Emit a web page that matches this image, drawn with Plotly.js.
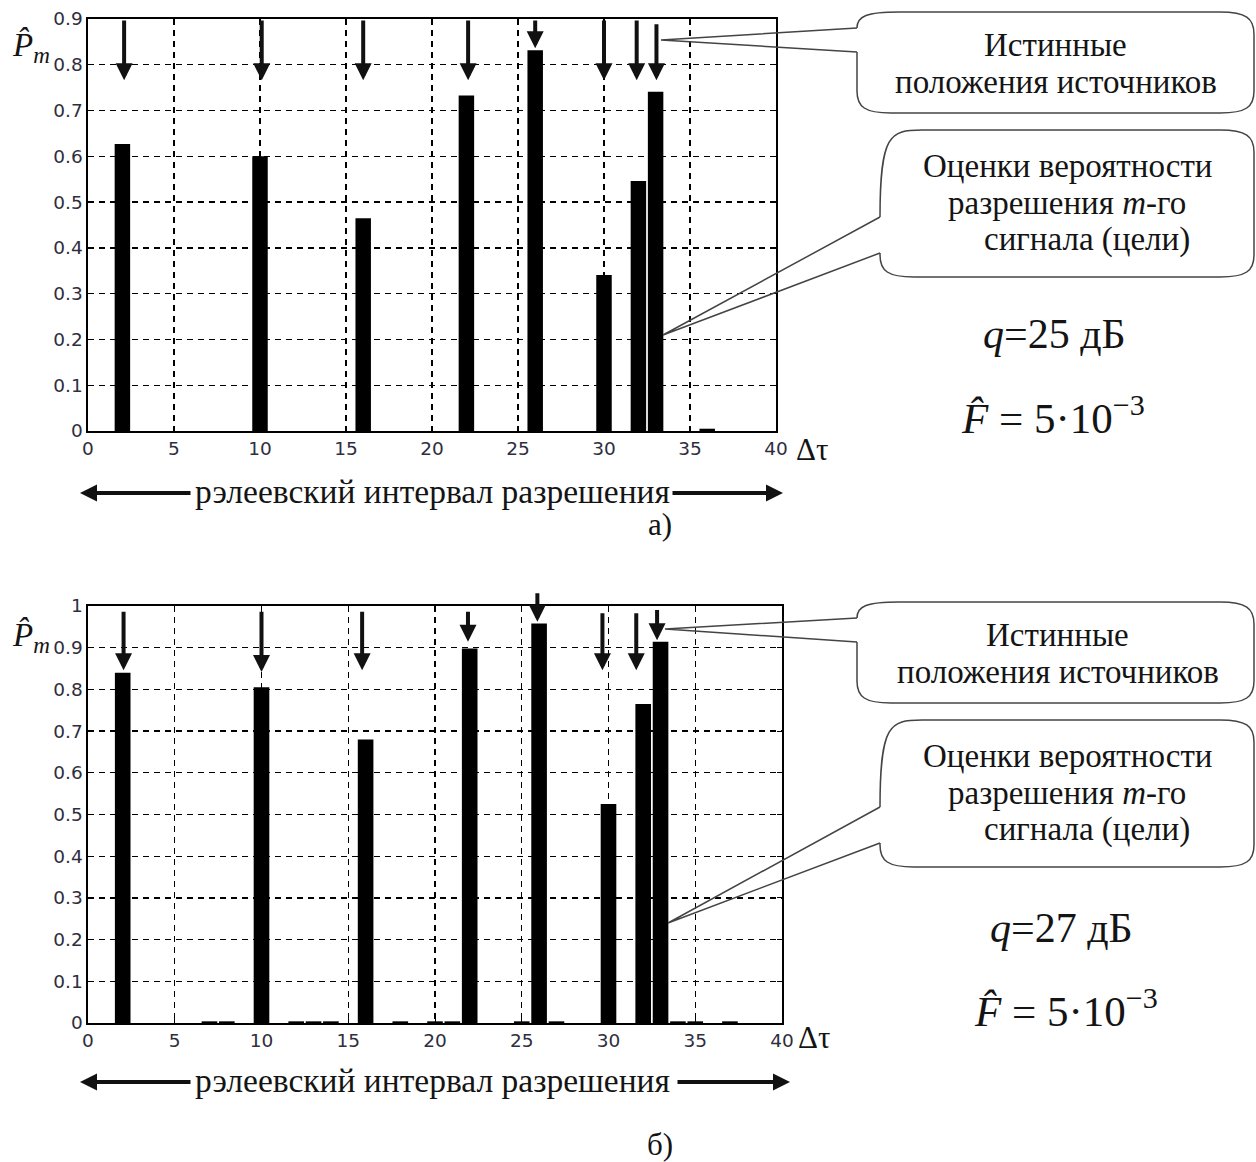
<!DOCTYPE html>
<html><head><meta charset="utf-8">
<script src="https://cdn.plot.ly/plotly-3.0.1.min.js"></script>
<style>html,body{margin:0;padding:0;background:#fff}#chart{width:1256px;height:1162px}</style>
</head><body><div id="chart"></div>
<script>
const W = 1256, H = 1162;

// ---------- data ----------
const topPositions = [2, 10, 16, 22, 26, 30, 32, 33, 36];
const topValues    = [0.627, 0.600, 0.465, 0.733, 0.832, 0.341, 0.546, 0.741, 0.005];

const bottomPositions = [2, 7, 8, 10, 12, 13, 14, 16, 18, 20, 21, 22, 25, 26, 27, 30, 32, 33, 34, 35, 37];
const bottomValues    = [0.840, 0.004, 0.004, 0.805, 0.004, 0.004, 0.004, 0.680, 0.004, 0.004, 0.004,
                         0.898, 0.004, 0.958, 0.004, 0.525, 0.765, 0.914, 0.004, 0.004, 0.004];

// true source positions (arrows): x, arrow tip value, arrow tail value
const topSourceX    = [2.1, 10.1, 16, 22.1, 26, 30, 31.9, 33.05];
const topArrowTip   = [0.766, 0.766, 0.766, 0.766, 0.836, 0.766, 0.766, 0.766];
const topArrowTail  = [0.9, 0.9, 0.9, 0.9, 0.9, 0.9, 0.9, 0.892];

const bottomSourceX   = [2.05, 10, 15.8, 21.9, 25.9, 29.65, 31.6, 32.8];
const bottomArrowTip  = [0.846, 0.842, 0.846, 0.914, 0.962, 0.846, 0.846, 0.918];
const bottomArrowTail = [0.99, 0.99, 0.99, 0.99, 1.034, 0.986, 0.986, 0.994];

const xTickVals = [0, 5, 10, 15, 20, 25, 30, 35, 40];
const xTickText = ['0', '5', '10', '15', '20', '25', '30', '35', '40'];
const topYTickVals = [0, 0.1, 0.2, 0.3, 0.4, 0.5, 0.6, 0.7, 0.8, 0.9];
const topYTickText = ['0', '0.1', '0.2', '0.3', '0.4', '0.5', '0.6', '0.7', '0.8', '0.9'];
const bottomYTickVals = [0, 0.1, 0.2, 0.3, 0.4, 0.5, 0.6, 0.7, 0.8, 0.9, 1];
const bottomYTickText = ['0', '0.1', '0.2', '0.3', '0.4', '0.5', '0.6', '0.7', '0.8', '0.9', '1'];

const panelLabels = ['а)', 'б)'];
const snrLabels = ['<i>q</i>=25 дБ', '<i>q</i>=27 дБ'];
const falseAlarmLabel = '<i>F\u0302</i> = 5·10<sup>\u22123</sup>';
const calloutTrue = ['Истинные', 'положения источников'];
const calloutEst = ['Оценки вероятности', 'разрешения <i>m</i>-го', 'сигнала (цели)'];
const rayleighLabel = 'рэлеевский интервал разрешения';
const yLabel = '<i>P\u0302</i><sub><i>m</i></sub>';
const xLabel = 'Δτ';

// ---------- helpers ----------
const px = x => x / W;
const py = y => 1 - y / H;
const SERIF = "'Liberation Serif', 'Times New Roman', serif";
const SANS = "'DejaVu Sans', sans-serif";
const TXT = '#141414';

function axisX(dom, anchor) {
  return {
    domain: dom, anchor: anchor, range: [0, 40], tickmode: 'array',
    tickvals: xTickVals, ticktext: xTickText,
    showgrid: true, gridcolor: '#000', gridwidth: 1.4, griddash: '6px,5px',
    showline: true, linecolor: '#000', linewidth: 1.6, mirror: 'ticks',
    ticks: 'inside', ticklen: 5, tickcolor: '#000', tickwidth: 1,
    zeroline: false, fixedrange: true,
    tickfont: {family: SANS, size: 18.5, color: '#2e2e3e'}
  };
}
function axisY(dom, anchor, maxv, vals, texts) {
  return {
    domain: dom, anchor: anchor, range: [0, maxv], tickmode: 'array',
    tickvals: vals, ticktext: texts,
    showgrid: true, gridcolor: '#000', gridwidth: 1.4, griddash: '6px,5px',
    showline: true, linecolor: '#000', linewidth: 1.6, mirror: 'ticks',
    ticks: 'inside', ticklen: 5, tickcolor: '#000', tickwidth: 1,
    zeroline: false, fixedrange: true,
    tickfont: {family: SANS, size: 18.5, color: '#2e2e3e'}
  };
}

// text annotation positioned by its baseline (pixels)
function txt(text, cx, baseline, size, anchor) {
  return {
    xref: 'paper', yref: 'paper', x: px(cx), y: py(baseline - 0.34 * size),
    xanchor: anchor || 'center', yanchor: 'middle', showarrow: false,
    text: text, font: {family: SERIF, size: size, color: TXT}
  };
}
function sourceArrows(xs, tips, tails, xr, yr) {
  return xs.map((x, i) => ({
    x: x, y: tips[i], ax: x, ay: tails[i], xref: xr, yref: yr, axref: xr, ayref: yr,
    text: '', showarrow: true, arrowhead: 2, arrowsize: 0.85, arrowwidth: 4,
    arrowcolor: '#111', standoff: 0
  }));
}
function paperArrow(tipX, tipY, tailX, tailY) {
  return {
    xref: 'paper', yref: 'paper', x: px(tipX), y: py(tipY),
    axref: 'pixel', ayref: 'pixel', ax: tailX - tipX, ay: tailY - tipY,
    text: '', showarrow: true, arrowhead: 2, arrowsize: 0.85, arrowwidth: 4,
    arrowcolor: '#111', standoff: 0
  };
}
// callout bubble (rounded box open at the tail) + tail
function callout(L, T, R, B, tipX, tipY, yA, yB) {
  const P = (x, y) => px(x).toFixed(5) + ',' + py(y).toFixed(5);
  const rx = 34, ry = 22;
  const box = 'M' + P(L, yA) +
    ' C' + P(L, T + 4) + ' ' + P(L + 10, T) + ' ' + P(L + rx + 8, T) +
    ' L' + P(R - rx, T) +
    ' C' + P(R - 8, T) + ' ' + P(R, T + 6) + ' ' + P(R, T + ry) +
    ' L' + P(R, B - ry) +
    ' C' + P(R, B - 6) + ' ' + P(R - 8, B) + ' ' + P(R - rx, B) +
    ' L' + P(L + rx, B) +
    ' C' + P(L + 8, B) + ' ' + P(L, B - 6) + ' ' + P(L, B - ry) +
    ' L' + P(L, yB);
  const tail = 'M' + P(L, yA) + ' L' + P(tipX, tipY) + ' L' + P(L, yB);
  const line = {color: '#444', width: 1.5};
  return [
    {type: 'path', xref: 'paper', yref: 'paper', path: box, line: line, fillcolor: 'rgba(0,0,0,0)', layer: 'above'},
    {type: 'path', xref: 'paper', yref: 'paper', path: tail, line: line, fillcolor: 'rgba(0,0,0,0)', layer: 'above'}
  ];
}

// ---------- traces ----------
const traces = [
  {type: 'bar', x: topPositions, y: topValues, width: 0.9, xaxis: 'x', yaxis: 'y',
   marker: {color: '#000', line: {width: 0}}, hoverinfo: 'x+y'},
  {type: 'bar', x: bottomPositions, y: bottomValues, width: 0.9, xaxis: 'x2', yaxis: 'y2',
   marker: {color: '#000', line: {width: 0}}, hoverinfo: 'x+y'}
];

// ---------- annotations ----------
let ann = [];
ann = ann.concat(sourceArrows(topSourceX, topArrowTip, topArrowTail, 'x', 'y'));
ann = ann.concat(sourceArrows(bottomSourceX, bottomArrowTip, bottomArrowTail, 'x2', 'y2'));

// axis labels
ann.push({xref: 'paper', yref: 'paper', x: px(10), y: py(25), xanchor: 'left', yanchor: 'top',
  showarrow: false, text: yLabel, font: {family: SERIF, size: 33, color: TXT}});
ann.push({xref: 'paper', yref: 'paper', x: px(10), y: py(615), xanchor: 'left', yanchor: 'top',
  showarrow: false, text: yLabel, font: {family: SERIF, size: 33, color: TXT}});
ann.push(txt(xLabel, 794, 460, 31, 'left'));
ann.push(txt(xLabel, 796, 1048, 31, 'left'));

// callout texts (top)
const CS = 33;
ann.push(txt(calloutTrue[0], 1055, 56, CS));
ann.push(txt(calloutTrue[1], 1056, 93, CS));
ann.push(txt(calloutEst[0], 1067, 177, CS));
ann.push(txt(calloutEst[1], 1067, 214, CS));
ann.push(txt(calloutEst[2], 1087, 251, CS));
// callout texts (bottom)
ann.push(txt(calloutTrue[0], 1057, 646, CS));
ann.push(txt(calloutTrue[1], 1058, 683, CS));
ann.push(txt(calloutEst[0], 1067, 767, CS));
ann.push(txt(calloutEst[1], 1067, 804, CS));
ann.push(txt(calloutEst[2], 1087, 841, CS));

// parameters
ann.push(txt(snrLabels[0], 1054, 348, 42));
ann.push(txt(falseAlarmLabel, 1053, 430, 43));
ann.push(txt(snrLabels[1], 1061, 942, 42));
ann.push(txt(falseAlarmLabel, 1066, 1023, 43));

// Rayleigh interval
ann.push(txt(rayleighLabel, 432, 503, 33.5));
ann.push(paperArrow(80, 493, 192, 493));
ann.push(paperArrow(783, 493, 671, 493));
ann.push(txt(panelLabels[0], 660, 535, 31));

ann.push(txt(rayleighLabel, 432, 1092, 33.5));
ann.push(paperArrow(80, 1082, 192, 1082));
ann.push(paperArrow(790, 1082, 676, 1082));
ann.push(txt(panelLabels[1], 660, 1155, 31));

// ---------- shapes ----------
let shapes = [];
shapes = shapes.concat(callout(857, 12, 1254, 113, 661, 40, 28, 52));
shapes = shapes.concat(callout(880, 130, 1254, 277, 663, 335, 217, 253));
shapes = shapes.concat(callout(857, 602, 1254, 703, 665, 629, 618, 642));
shapes = shapes.concat(callout(880, 720, 1254, 867, 668, 923, 807, 843));

const layout = {
  width: W, height: H, margin: {l: 0, r: 0, t: 0, b: 0},
  paper_bgcolor: '#fff', plot_bgcolor: '#fff', showlegend: false,
  xaxis: axisX([px(88), px(776)], 'y'),
  yaxis: axisY([py(431), py(19)], 'x', 0.9, topYTickVals, topYTickText),
  xaxis2: axisX([px(88), px(782)], 'y2'),
  yaxis2: axisY([py(1023), py(606)], 'x2', 1, bottomYTickVals, bottomYTickText),
  annotations: ann, shapes: shapes
};

Plotly.newPlot('chart', traces, layout, {displayModeBar: false, staticPlot: true});
</script></body></html>
